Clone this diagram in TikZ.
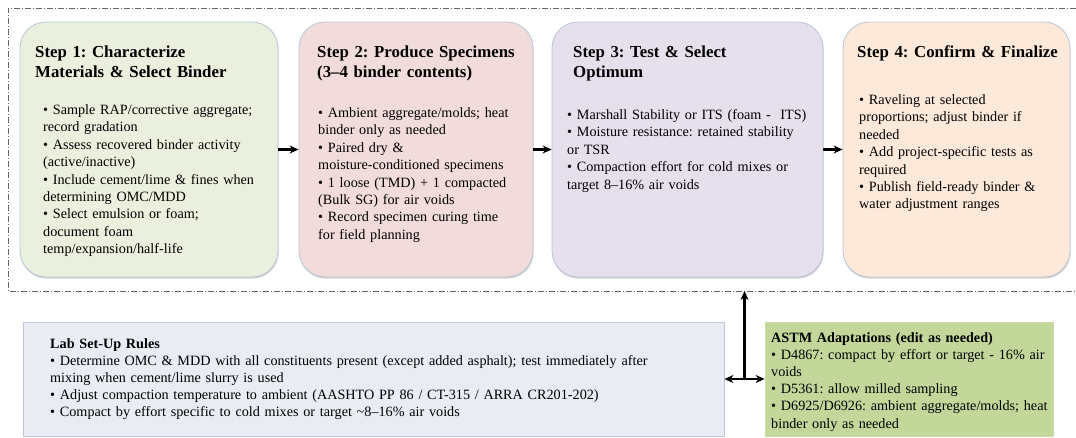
\documentclass[tikz,border=0pt]{standalone}
\usepackage{fontspec}
\setmainfont{Liberation Serif}
\usetikzlibrary{arrows.meta,shadows,calc}

\definecolor{fillA}{HTML}{EBF0DE}
\definecolor{fillB}{HTML}{F2DCDB}
\definecolor{fillC}{HTML}{E5E0EC}
\definecolor{fillD}{HTML}{FDE9D9}
\definecolor{fillLab}{HTML}{E9EDF3}
\definecolor{fillAstm}{HTML}{C4D79B}
\definecolor{boxedge}{HTML}{B7C5D7}
\definecolor{labedge}{HTML}{BCC6D4}
\definecolor{astmedge}{HTML}{CCDCA9}
\definecolor{framecol}{HTML}{666666}

\frenchspacing

\tikzset{
  stepbox/.style={draw=boxedge, line width=0.8pt, rounded corners=26pt, inner sep=0pt,
    drop shadow={shadow xshift=0.6pt, shadow yshift=-1.6pt, opacity=0.35, fill=gray}},
  notebox/.style={line width=0.8pt, inner sep=0pt},
  steptitle/.style={anchor=base west, align=left, text width=240pt, inner sep=0pt,
    font=\bfseries\fontsize{16.8}{20}\selectfont},
  steptext/.style={anchor=base west, align=left, text width=300pt, inner sep=0pt,
    font=\fontsize{14.2}{17.4}\selectfont},
  notetext/.style={anchor=base west, align=left, text width=680pt, inner sep=0pt,
    font=\fontsize{14.2}{17.1}\selectfont},
  tip/.style={},
  flow/.style={-{Stealth[length=9pt,width=8pt]}, line width=2.3pt},
  twoway/.style={{Stealth[length=9pt,width=8pt]}-{Stealth[length=9pt,width=8pt]}, line width=2.3pt},
  groupframe/.style={draw=framecol, line width=0.8pt, dash pattern=on 6pt off 2pt on 1pt off 2pt},
}

\begin{document}
\begin{tikzpicture}[x=1pt, y=-1pt]
\useasboundingbox (0,0) rectangle (1076,437);

% outer dash-dot group frame (open on the right)
\draw[groupframe] (1076,8) -- (8,8) -- (8,291) -- (1076,291);
\coordinate (framebase) at (0,291);

% the four steps
\node[stepbox, fill=fillA, minimum width=258pt, minimum height=255pt] (s1) at (149,149.5) {};
\node[stepbox, fill=fillB, minimum width=234pt, minimum height=255pt] (s2) at (416,149.5) {};
\node[stepbox, fill=fillC, minimum width=271pt, minimum height=255pt] (s3) at (687.5,149.5) {};
\node[stepbox, fill=fillD, minimum width=227pt, minimum height=255pt] (s4) at (956.5,149.5) {};

\node[steptitle] (t1) at (35,57.5) {Step 1: Characterize\\Materials \& Select Binder};
\node[steptext] (b1) at (43,114.5) {%
\textbullet{} Sample RAP/corrective aggregate;\\
record gradation\\
\textbullet{} Assess recovered binder activity\\
(active/inactive)\\
\textbullet{} Include cement/lime \& fines when\\
determining OMC/MDD\\
\textbullet{} Select emulsion or foam;\\
document foam\\
temp/expansion/half-life};

\node[steptitle] (t2) at (317,57.5) {Step 2: Produce Specimens\\(3–4 binder contents)};
\node[steptext] (b2) at (318,117.5) {%
\textbullet{} Ambient aggregate/molds; heat\\
binder only as needed\\
\textbullet{} Paired dry \&\\
moisture-conditioned specimens\\
\textbullet{} 1 loose (TMD) + 1 compacted\\
(Bulk SG) for air voids\\
\textbullet{} Record specimen curing time\\
for field planning};

\node[steptitle] (t3) at (573,57.5) {Step 3: Test \& Select\\Optimum};
\node[steptext] (b3) at (567,119.5) {%
\textbullet{} Marshall Stability or ITS (foam -\ \ ITS)\\
\textbullet{} Moisture resistance: retained stability\\
or TSR\\
\textbullet{} Compaction effort for cold mixes or\\
target 8–16\% air voids};

\node[steptitle] (t4) at (857,57.5) {Step 4: Confirm \& Finalize};
\node[steptext] (b4) at (859,104.5) {%
\textbullet{} Raveling at selected\\
proportions; adjust binder if\\
needed\\
\textbullet{} Add project-specific tests as\\
required\\
\textbullet{} Publish field-ready binder \&\\
water adjustment ranges};

\draw[flow] (s1.east) -- (s2.west);
\draw[flow] (s2.east) -- (s3.west);
\draw[flow] (s3.east) -- (s4.west);

% lower note boxes
\node[notebox, draw=labedge, fill=fillLab, minimum width=701pt, minimum height=114pt] (lab) at (373.5,379) {};
\node[notebox, draw=astmedge, fill=fillAstm, minimum width=288pt, minimum height=114pt] (astm) at (909,379) {};

\node[notetext] (labtext) at (50,348) {%
\textbf{Lab Set-Up Rules}\\
\textbullet{} Determine OMC \& MDD with all constituents present (except added asphalt); test immediately after\\
mixing when cement/lime slurry is used\\
\textbullet{} Adjust compaction temperature to ambient (AASHTO PP 86 / CT-315 / ARRA CR201-202)\\
\textbullet{} Compact by effort specific to cold mixes or target \textasciitilde 8–16\% air voids};

\node[notetext, text width=280pt] (astmtext) at (771,342.5) {%
\textbf{ASTM Adaptations (edit as needed)}\\
\textbullet{} D4867: compact by effort or target - 16\% air\\
voids\\
\textbullet{} D5361: allow milled sampling\\
\textbullet{} D6925/D6926: ambient aggregate/molds; heat\\
binder only as needed};

% link between the notes and the step group
\draw[twoway] (lab.east) -- (astm.west);
\coordinate (junction) at ($(lab.east)!0.5!(astm.west)$);
\draw[flow] (junction) -- (junction |- framebase);
\end{tikzpicture}
\end{document}
